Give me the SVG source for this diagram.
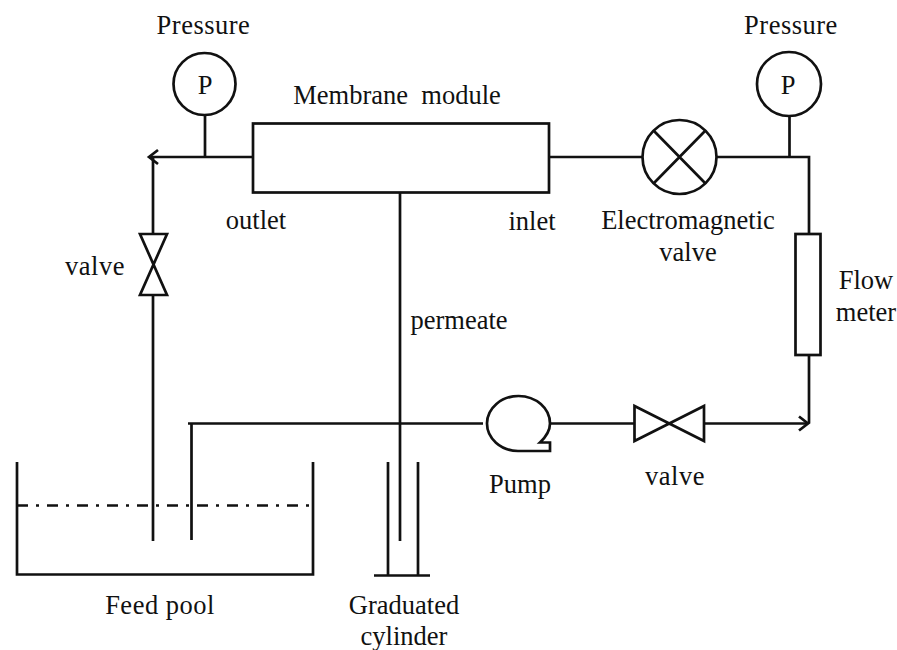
<svg xmlns="http://www.w3.org/2000/svg" width="897" height="650" viewBox="0 0 897 650">
<style>
.s{fill:none;stroke:#111;stroke-width:2.7;stroke-linejoin:miter}
.w{fill:#fff;stroke:#111;stroke-width:2.7}
text{font-family:"Liberation Serif","Times New Roman",serif;font-size:26.5px;fill:#111;text-anchor:middle}
.l{letter-spacing:.5px}
</style>
<defs>
<marker id="a" markerUnits="userSpaceOnUse" markerWidth="16" markerHeight="18" refX="13" refY="9" orient="auto"><path d="M4 2L13 9L4 16" fill="none" stroke="#111" stroke-width="2.7"/></marker>
</defs>
<rect width="897" height="650" fill="#fff"/>
<g id="connectors">
<path class="s" d="M205 115V157"/>
<path class="s" d="M253 157H149" marker-end="url(#a)"/>
<path class="s" d="M153 157V234"/>
<path class="s" d="M153 295V541"/>
<path class="s" d="M400 192V541"/>
<path class="s" d="M549 157H642"/>
<path class="s" d="M717 157H809V234"/>
<path class="s" d="M789.500 115V157"/>
<path class="s" d="M809 355V423.500"/>
<path class="s" d="M704 423.500H808" marker-end="url(#a)"/>
<path class="s" d="M551 423.500H634"/>
<path class="s" d="M483 423.500H188M191.500 423.500V540"/>
</g>
<g id="gauge-left"><circle class="w" cx="204.500" cy="84" r="31"/><text x="205" y="94">P</text><text class="l" x="203.500" y="34">Pressure</text></g>
<g id="gauge-right"><circle class="w" cx="789" cy="84" r="32"/><text x="788" y="94">P</text><text class="l" x="791" y="34">Pressure</text></g>
<g id="membrane-module"><rect class="w" x="253" y="123.500" width="296" height="69"/><text x="397" y="104">Membrane&#160; module</text><text x="256" y="229">outlet</text><text x="532" y="230">inlet</text></g>
<g id="permeate"><text x="459" y="329">permeate</text></g>
<g id="electromagnetic-valve"><circle class="w" cx="679.500" cy="157" r="37"/><path class="s" d="M654 131L705 183M705 131L654 183"/><text x="688" y="229">Electromagnetic</text><text x="688" y="261">valve</text></g>
<g id="flow-meter"><rect class="w" x="795.500" y="234" width="25" height="121"/><text x="866" y="289">Flow</text><text x="866" y="321">meter</text></g>
<g id="valve-left"><path class="w" d="M140 234H167L140 295H167Z"/><text class="l" x="95" y="275">valve</text></g>
<g id="valve-bottom"><path class="w" d="M634.500 406V441L704 406V441Z"/><text class="l" x="675" y="485">valve</text></g>
<g id="pump"><path class="s" d="M550 451H518A31.500 27.500 0 1 1 550 423.500Q550 433 540 442.500H550Z"/><text x="520" y="493">Pump</text></g>
<g id="feed-pool"><path class="s" d="M17 462V574.500H313V462"/><path d="M17 505.500H310" fill="none" stroke="#111" stroke-width="2.700" stroke-dasharray="11 8 3 8"/><text class="l" x="160" y="614">Feed pool</text></g>
<g id="graduated-cylinder"><path class="s" d="M388 462V575M418 462V575M374 575.500H430"/><text x="404" y="614">Graduated</text><text x="404" y="644.500">cylinder</text></g>
</svg>
